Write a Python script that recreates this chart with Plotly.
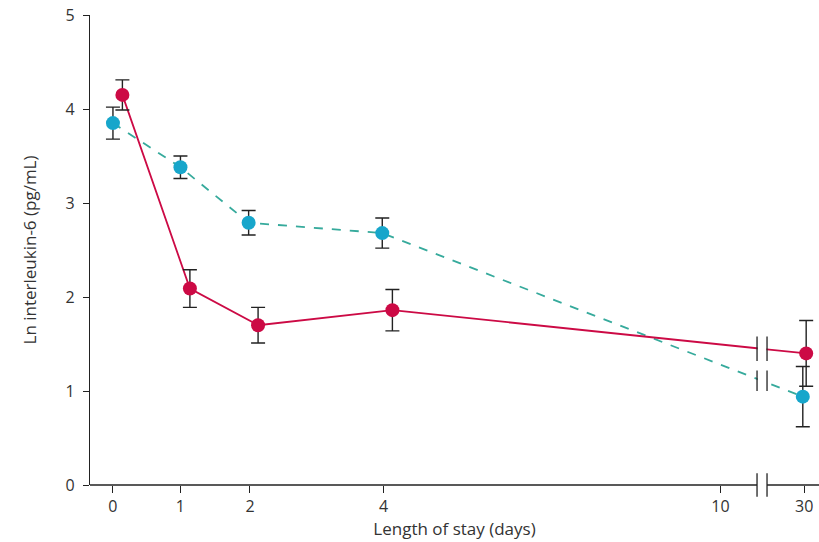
import numpy as np
import plotly.graph_objects as go

# ---- data ----
days = [0, 1, 2, 4, 30]
tick_labels = ["0", "1", "2", "4", "10", "30"]
tick_days = [0, 1, 2, 4, 10, 30]

red_mean = [4.15, 2.09, 1.70, 1.86, 1.40]
red_err = [0.16, 0.20, 0.19, 0.22, 0.35]
blue_mean = [3.85, 3.38, 2.79, 2.68, 0.94]
blue_err = [0.17, 0.12, 0.13, 0.16, 0.32]

# ---- layout helpers (broken axis scale: day -> axis position) ----
axis_pos = {0: 0.0, 1: 1.0, 2: 2.03, 4: 4.01, 10: 9.0, 30: 10.24}
red_offset = [0.14, 0.14, 0.12, 0.13, 0.03]
blue_offset = [0.0, 0.0, -0.02, -0.02, -0.02]
XMIN, XMAX = -0.34, 10.46
YMIN, YMAX = 0, 5
BREAK = 9.616
HALF_GAP = 0.074

RED = "#CC0A45"
BLUE_M = "#17A6CB"
BLUE_L = "#36AA9C"
FONT = "Open Sans"

rx = [axis_pos[d] + o for d, o in zip(days, red_offset)]
bx = [axis_pos[d] + o for d, o in zip(days, blue_offset)]

fig = go.Figure()
fig.add_trace(go.Scatter(
    x=bx, y=blue_mean, mode="lines",
    line=dict(color=BLUE_L, width=1.8, dash="dash"),
    hoverinfo="skip", showlegend=False))
fig.add_trace(go.Scatter(
    x=rx, y=red_mean, mode="lines",
    line=dict(color=RED, width=1.8),
    hoverinfo="skip", showlegend=False))

shapes = []
# white gap in the data lines at the break
shapes.append(dict(type="rect", xref="x", yref="y",
                   x0=BREAK - HALF_GAP + 0.01, x1=BREAK + HALF_GAP - 0.01,
                   y0=0.3, y1=4.9, fillcolor="white",
                   line=dict(width=0), layer="above"))
# break marks on the lines
for xs, ys, h in [(rx, red_mean, 0.13), (bx, blue_mean, 0.11)]:
    yb = float(np.interp(BREAK, xs, ys))
    for s in (-1, 1):
        xm = BREAK + s * HALF_GAP
        shapes.append(dict(type="line", xref="x", yref="y",
                           x0=xm, x1=xm, y0=yb - h, y1=yb + h,
                           line=dict(color="#222", width=1.3), layer="above"))

def px(v):
    return (v - XMIN) / (XMAX - XMIN)

def py(v):
    return (v - YMIN) / (YMAX - YMIN)

# x axis line, split at the break
shapes.append(dict(type="line", xref="paper", yref="paper",
                   x0=0, x1=px(BREAK - HALF_GAP), y0=0, y1=0,
                   line=dict(color="#222", width=1.3)))
shapes.append(dict(type="line", xref="paper", yref="paper",
                   x0=px(BREAK + HALF_GAP), x1=1, y0=0, y1=0,
                   line=dict(color="#222", width=1.3)))
for s in (-1, 1):
    xm = px(BREAK + s * HALF_GAP)
    shapes.append(dict(type="line", xref="paper", yref="paper",
                       x0=xm, x1=xm, y0=py(-0.125), y1=py(0.125),
                       line=dict(color="#222", width=1.3)))

# markers with error bars (on top)
fig.add_trace(go.Scatter(
    x=bx, y=blue_mean, mode="markers",
    marker=dict(color=BLUE_M, size=14, line=dict(width=0)),
    error_y=dict(type="data", array=blue_err, color="#222", thickness=1.4, width=7),
    hoverinfo="skip", showlegend=False, cliponaxis=False))
fig.add_trace(go.Scatter(
    x=rx, y=red_mean, mode="markers",
    marker=dict(color=RED, size=14, line=dict(width=0)),
    error_y=dict(type="data", array=red_err, color="#222", thickness=1.4, width=7),
    hoverinfo="skip", showlegend=False, cliponaxis=False))

fig.update_layout(
    width=819, height=542,
    margin=dict(l=90, r=0, t=15, b=57),
    paper_bgcolor="white", plot_bgcolor="white",
    font=dict(family=FONT, size=16, color="#333"),
    shapes=shapes,
    xaxis=dict(range=[XMIN, XMAX], showgrid=False, zeroline=False, showline=False,
               automargin=False,
               tickmode="array", tickvals=[axis_pos[d] for d in tick_days],
               ticktext=tick_labels, ticks="outside", ticklen=7,
               tickcolor="#222", tickwidth=1.3, tickfont=dict(size=16),
               ticklabeloverflow="allow",
               title=dict(text="Length of stay (days)", standoff=5,
                          font=dict(size=17, color="#333"))),
    yaxis=dict(range=[YMIN, YMAX], showgrid=False, zeroline=False, showline=True,
               automargin=False,
               linecolor="#222", linewidth=1.3,
               tickvals=[0, 1, 2, 3, 4, 5], ticks="outside", ticklen=6,
               tickcolor="#222", tickwidth=1.3, tickfont=dict(size=16),
               ticklabelstandoff=5, ticklabeloverflow="allow",
               title=dict(text="Ln interleukin-6 (pg/mL)", standoff=24,
                          font=dict(size=17, color="#333"))),
)

fig.write_html(
    "out.html",
    config={"displayModeBar": False},
    post_script="document.body.style.margin='0';document.body.style.overflow='hidden';",
)
